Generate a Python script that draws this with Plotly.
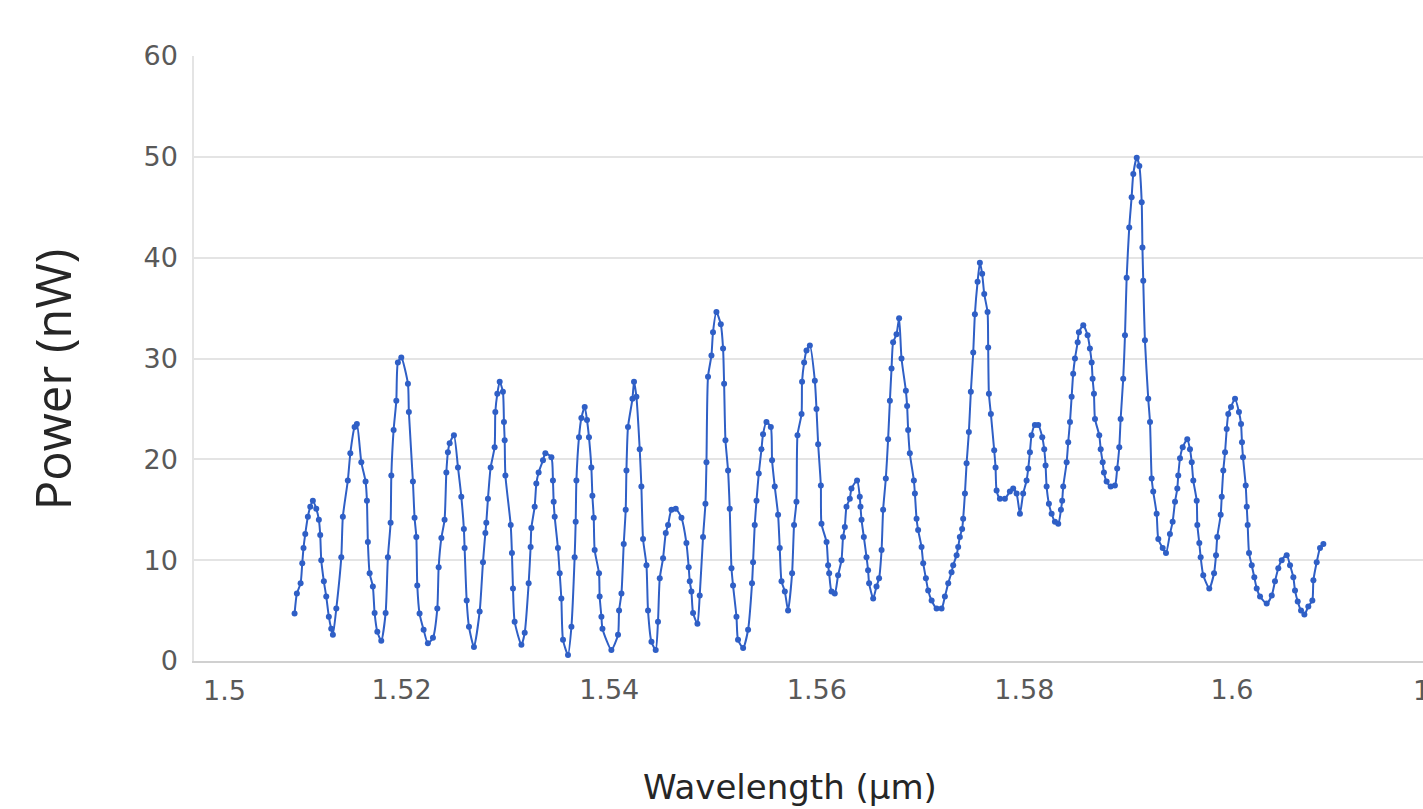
import plotly.graph_objects as go

wavelength_um = [
    1.50969, 1.50991, 1.51027, 1.51043, 1.51055, 1.51072, 1.51097, 1.51120, 1.51145, 1.51178,
    1.51203, 1.51216, 1.51226, 1.51251, 1.51274, 1.51299, 1.51322, 1.51338, 1.51371, 1.51419,
    1.51434, 1.51482, 1.51506, 1.51547, 1.51569, 1.51612, 1.51653, 1.51666, 1.51675, 1.51692,
    1.51723, 1.51740, 1.51766, 1.51804, 1.51846, 1.51868, 1.51894, 1.51901, 1.51923, 1.51949,
    1.51964, 1.51997, 1.52061, 1.52070, 1.52109, 1.52125, 1.52142, 1.52151, 1.52173, 1.52212,
    1.52253, 1.52302, 1.52344, 1.52357, 1.52383, 1.52414, 1.52431, 1.52446, 1.52463, 1.52504,
    1.52543, 1.52575, 1.52600, 1.52607, 1.52627, 1.52649, 1.52697, 1.52752, 1.52784, 1.52807,
    1.52816, 1.52832, 1.52858, 1.52896, 1.52903, 1.52922, 1.52945, 1.52976, 1.52986, 1.52993,
    1.53000, 1.53051, 1.53063, 1.53073, 1.53089, 1.53154, 1.53186, 1.53224, 1.53243, 1.53250,
    1.53282, 1.53298, 1.53320, 1.53362, 1.53385, 1.53443, 1.53458, 1.53465, 1.53475, 1.53506,
    1.53523, 1.53539, 1.53555, 1.53603, 1.53636, 1.53667, 1.53677, 1.53684, 1.53709, 1.53732,
    1.53764, 1.53786, 1.53805, 1.53828, 1.53838, 1.53851, 1.53860, 1.53902, 1.53908, 1.53925,
    1.53935, 1.54021, 1.54085, 1.54095, 1.54118, 1.54140, 1.54159, 1.54166, 1.54181, 1.54224,
    1.54239, 1.54262, 1.54294, 1.54310, 1.54326, 1.54359, 1.54374, 1.54407, 1.54448, 1.54470,
    1.54487, 1.54519, 1.54545, 1.54567, 1.54600, 1.54641, 1.54696, 1.54744, 1.54766, 1.54776,
    1.54792, 1.54808, 1.54850, 1.54872, 1.54904, 1.54927, 1.54937, 1.54952, 1.54985, 1.55000,
    1.55033, 1.55075, 1.55097, 1.55107, 1.55120, 1.55145, 1.55161, 1.55178, 1.55193, 1.55226,
    1.55241, 1.55290, 1.55338, 1.55376, 1.55386, 1.55402, 1.55419, 1.55441, 1.55467, 1.55482,
    1.55515, 1.55557, 1.55569, 1.55595, 1.55627, 1.55643, 1.55660, 1.55692, 1.55723, 1.55762,
    1.55781, 1.55804, 1.55814, 1.55853, 1.55858, 1.55878, 1.55901, 1.55933, 1.55981, 1.55997,
    1.56013, 1.56039, 1.56045, 1.56094, 1.56109, 1.56119, 1.56142, 1.56173, 1.56205, 1.56238,
    1.56253, 1.56270, 1.56286, 1.56318, 1.56334, 1.56388, 1.56414, 1.56421, 1.56431, 1.56453,
    1.56479, 1.56494, 1.56504, 1.56543, 1.56575, 1.56600, 1.56624, 1.56639, 1.56665, 1.56687,
    1.56704, 1.56720, 1.56735, 1.56768, 1.56793, 1.56816, 1.56858, 1.56870, 1.56880, 1.56896,
    1.56935, 1.56945, 1.56961, 1.56976, 1.57009, 1.57025, 1.57051, 1.57073, 1.57106, 1.57154,
    1.57202, 1.57234, 1.57266, 1.57298, 1.57314, 1.57347, 1.57362, 1.57378, 1.57400, 1.57410,
    1.57427, 1.57443, 1.57465, 1.57484, 1.57507, 1.57523, 1.57549, 1.57571, 1.57593, 1.57613,
    1.57645, 1.57651, 1.57658, 1.57677, 1.57709, 1.57722, 1.57732, 1.57764, 1.57812, 1.57860,
    1.57892, 1.57925, 1.57957, 1.57988, 1.58021, 1.58037, 1.58053, 1.58069, 1.58101, 1.58133,
    1.58172, 1.58191, 1.58204, 1.58214, 1.58236, 1.58262, 1.58294, 1.58326, 1.58352, 1.58364,
    1.58374, 1.58407, 1.58422, 1.58439, 1.58455, 1.58470, 1.58487, 1.58513, 1.58525, 1.58567,
    1.58609, 1.58631, 1.58648, 1.58657, 1.58670, 1.58680, 1.58721, 1.58735, 1.58754, 1.58766,
    1.58792, 1.58831, 1.58872, 1.58894, 1.58914, 1.58927, 1.58952, 1.58969, 1.58985, 1.59010,
    1.59033, 1.59049, 1.59082, 1.59107, 1.59130, 1.59137, 1.59145, 1.59161, 1.59193, 1.59210,
    1.59226, 1.59241, 1.59274, 1.59290, 1.59332, 1.59364, 1.59402, 1.59428, 1.59451, 1.59473,
    1.59482, 1.59499, 1.59525, 1.59569, 1.59595, 1.59612, 1.59627, 1.59660, 1.59666, 1.59685,
    1.59698, 1.59723, 1.59781, 1.59827, 1.59846, 1.59858, 1.59891, 1.59901, 1.59916, 1.59933,
    1.59949, 1.59964, 1.59990, 1.60029, 1.60067, 1.60087, 1.60096, 1.60106, 1.60132, 1.60142,
    1.60151, 1.60164, 1.60190, 1.60215, 1.60238, 1.60270, 1.60334, 1.60383, 1.60414, 1.60446,
    1.60479, 1.60527, 1.60559, 1.60591, 1.60607, 1.60633, 1.60665, 1.60697, 1.60735, 1.60774,
    1.60784, 1.60816, 1.60848, 1.60880,
]

power_nw = [
    4.7, 6.7, 7.7, 9.7, 11.2, 12.6, 14.3, 15.3, 15.9, 15.1,
    14.0, 12.5, 10.0, 7.9, 6.4, 4.4, 3.2, 2.6, 5.2, 10.3,
    14.3, 17.9, 20.6, 23.2, 23.5, 19.7, 17.8, 15.9, 11.8, 8.7,
    7.4, 4.75, 2.9, 2.0, 4.75, 10.3, 13.7, 18.4, 22.9, 25.8,
    29.6, 30.1, 27.5, 24.7, 17.8, 14.2, 12.3, 7.5, 4.7, 3.1,
    1.75, 2.3, 5.2, 9.3, 12.2, 14.0, 18.7, 20.7, 21.6, 22.4,
    19.2, 16.3, 13.1, 11.2, 6.0, 3.4, 1.4, 4.9, 9.8, 12.7,
    13.7, 16.1, 19.2, 21.2, 24.7, 26.5, 27.7, 26.7, 23.7, 21.9,
    18.4, 13.5, 10.7, 7.2, 3.9, 1.6, 2.8, 7.7, 11.3, 13.2,
    15.3, 17.6, 18.7, 19.9, 20.6, 20.2, 17.9, 15.8, 14.3, 11.2,
    8.7, 6.2, 2.1, 0.6, 3.4, 10.3, 13.8, 17.9, 22.2, 24.1,
    25.2, 23.9, 22.2, 19.2, 16.4, 14.2, 11.0, 8.7, 6.4, 4.4,
    3.2, 1.1, 2.6, 5.0, 6.7, 11.6, 15.0, 18.9, 23.2, 26.0,
    27.7, 26.2, 21.0, 17.3, 12.1, 9.5, 5.0, 1.9, 1.1, 3.9,
    8.2, 10.2, 12.7, 13.5, 15.0, 15.1, 14.2, 11.7, 9.3, 7.9,
    6.9, 4.75, 3.7, 6.5, 12.3, 15.6, 19.7, 28.2, 30.3, 32.6,
    34.6, 33.4, 31.0, 27.5, 21.9, 18.9, 15.1, 9.2, 7.5, 4.4,
    2.1, 1.3, 3.1, 7.7, 9.8, 13.5, 15.9, 18.6, 21.0, 22.5,
    23.7, 23.2, 19.9, 17.3, 14.5, 11.2, 7.9, 6.9, 5.0, 8.7,
    13.5, 15.8, 22.4, 24.5, 27.7, 29.6, 30.8, 31.3, 27.8, 25.0,
    21.5, 17.4, 13.6, 11.8, 9.5, 8.7, 6.9, 6.7, 8.5, 10.0,
    12.3, 13.3, 15.3, 16.1, 17.1, 17.9, 16.3, 15.3, 14.0, 12.3,
    10.3, 9.0, 7.7, 6.2, 7.4, 8.2, 11.0, 15.0, 18.1, 22.0,
    25.8, 29.0, 31.6, 32.4, 34.0, 30.0, 26.8, 25.3, 22.9, 20.6,
    17.9, 16.6, 14.1, 13.0, 11.3, 9.7, 8.2, 7.0, 6.0, 5.2,
    5.2, 6.4, 7.7, 8.8, 9.5, 10.5, 11.3, 12.3, 13.1, 14.1,
    16.6, 19.6, 22.7, 26.7, 30.6, 34.4, 37.6, 39.5, 38.4, 36.4,
    34.6, 31.1, 26.5, 24.5, 20.9, 19.2, 16.9, 16.1, 16.1, 16.8,
    17.1, 16.6, 14.6, 16.6, 17.9, 19.1, 20.7, 22.4, 23.4, 23.4,
    22.2, 21.0, 19.4, 17.3, 15.6, 14.6, 13.8, 13.6, 15.0, 15.9,
    17.3, 19.7, 21.7, 23.7, 26.2, 28.5, 30.0, 31.6, 32.6, 33.3,
    32.3, 31.0, 29.6, 28.0, 26.5, 24.0, 22.4, 21.0, 19.7, 18.7,
    17.8, 17.3, 17.4, 19.1, 21.2, 24.0, 28.0, 32.3, 38.0, 43.0,
    46.0, 48.3, 49.9, 49.1, 45.5, 41.0, 37.7, 31.8, 26.0, 23.7,
    18.1, 16.8, 14.6, 12.1, 11.2, 10.7, 12.6, 13.8, 15.8, 17.1,
    18.4, 20.1, 21.2, 22.0, 21.0, 19.7, 17.9, 15.9, 13.5, 11.7,
    10.3, 8.5, 7.2, 8.7, 10.5, 12.3, 14.5, 16.3, 18.9, 20.7,
    23.0, 24.5, 25.2, 26.0, 24.7, 23.5, 21.7, 20.2, 17.4, 15.3,
    13.5, 10.7, 9.5, 8.3, 7.2, 6.4, 5.7, 6.5, 7.9, 9.2,
    10.0, 10.5, 9.5, 8.3, 7.0, 5.9, 5.0, 4.6, 5.4, 6.0,
    8.0, 9.8, 11.2, 11.6,
]

x_tick_values = [1.52, 1.54, 1.56, 1.58, 1.6]
x_tick_labels = ["1.52", "1.54", "1.56", "1.58", "1.6"]
y_tick_values = [0, 10, 20, 30, 40, 50, 60]

BLUE = "#2f5fc6"
TICK_FONT = dict(family="'DejaVu Sans', sans-serif", size=27, color="#595959")
XTITLE_FONT = dict(family="'DejaVu Sans', sans-serif", size=34, color="#262626")
YTITLE_FONT = dict(family="'Open Sans', sans-serif", size=49, color="#262626")

fig = go.Figure()
fig.add_trace(go.Scatter(
    x=wavelength_um, y=power_nw,
    mode="lines+markers",
    line=dict(color=BLUE, width=2, shape="spline", smoothing=0.6),
    marker=dict(color=BLUE, size=6),
    showlegend=False,
))

fig.update_layout(
    width=1423, height=809,
    margin=dict(l=194, r=0, t=56, b=148),
    paper_bgcolor="white", plot_bgcolor="white",
    font=TICK_FONT,
    xaxis=dict(
        range=[1.5, 1.6184],
        tickvals=x_tick_values, ticktext=x_tick_labels,
        showgrid=False, zeroline=False, automargin=False,
        showline=True, linecolor="#d0d0d0", linewidth=1.5,
        ticks="", tickfont=TICK_FONT, ticklabelstandoff=4,
    ),
    yaxis=dict(
        range=[0, 60],
        tickvals=y_tick_values,
        showgrid=True, gridcolor="#e4e4e4", gridwidth=1.5,
        zeroline=False, automargin=False,
        showline=True, linecolor="#e4e4e4", linewidth=1.5,
        ticks="", tickfont=TICK_FONT, ticklabelstandoff=9,
    ),
    annotations=[
        dict(text="1.5", xref="paper", yref="paper", x=(224 - 194) / 1229, y=-0.048,
             showarrow=False, xanchor="center", yanchor="middle", font=TICK_FONT),
        dict(text="1.62", xref="paper", yref="paper", x=(1443 - 194) / 1229, y=-0.048,
             showarrow=False, xanchor="center", yanchor="middle", font=TICK_FONT),
        dict(text="Wavelength (µm)", xref="paper", yref="paper", x=(790 - 194) / 1229, y=-0.208,
             showarrow=False, xanchor="center", yanchor="middle", font=XTITLE_FONT),
        dict(text="Power (nW)", xref="paper", yref="paper", x=(52 - 194) / 1229, y=0.464,
             showarrow=False, xanchor="center", yanchor="middle", textangle=-90,
             font=YTITLE_FONT),
    ],
)

fig.write_html("out.html", config={"displayModeBar": False},
               post_script="document.body.style.margin='0px';")
